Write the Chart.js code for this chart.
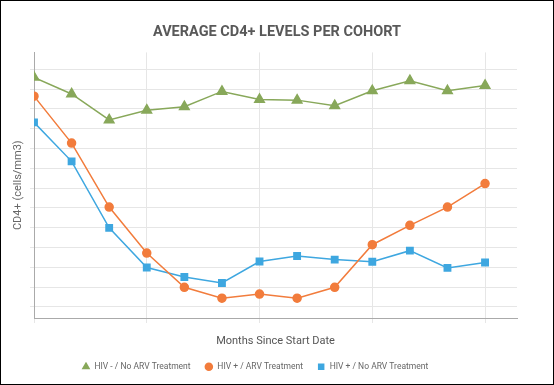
<!DOCTYPE html>
<html>
<head>
<meta charset="utf-8">
<script src="https://cdn.jsdelivr.net/npm/chart.js@4"></script>
<style>
  html, body { margin: 0; padding: 0; background: #fff; }
  #wrap { width: 554px; height: 385px; box-sizing: border-box; border: 1px solid #000; position: relative; }
  #wrap canvas { display: block; }
</style>
</head>
<body>
<div id="wrap"><canvas id="c"></canvas></div>
<script>
const months = [0, 1, 2, 3, 4, 5, 6, 7, 8, 9, 10, 11, 12];
const seriesNames = ['HIV - / No ARV Treatment', 'HIV + / ARV Treatment', 'HIV + / No ARV Treatment'];
const hivNegNoArv = [1159, 1075, 944, 993, 1011, 1088, 1047, 1044, 1016, 1091, 1142, 1091, 1118];
const hivPosArv   = [1064, 827, 504, 272, 99, 44, 65, 44, 99, 314, 412, 504, 623];
const hivPosNoArv = [932, 735, 399, 199, 151, 121, 229, 257, 239, 228, 284, 197, 224];
const yTicks = [0, 100, 200, 300, 400, 500, 600, 700, 800, 900, 1000, 1100, 1200];
const xTicks = [0, 3, 6, 9, 12];

const toPts = (vals) => vals.map((v, i) => ({ x: months[i], y: v }));

const shiftLegend = {
  id: 'shiftLegend',
  afterLayout(chart) {
    const lg = chart.legend;
    if (lg) { lg.left -= 22; lg.right -= 22; }
  }
};

new Chart(document.getElementById('c'), {
  type: 'line',
  data: {
    datasets: [
      { label: seriesNames[0], data: toPts(hivNegNoArv), borderColor: '#88a85a', backgroundColor: '#88a85a',
        pointStyle: 'triangle', pointRadius: 5.5, pointHoverRadius: 5.5, borderWidth: 1.5, tension: 0 },
      { label: seriesNames[1], data: toPts(hivPosArv), borderColor: '#f27c3c', backgroundColor: '#f27c3c',
        pointStyle: 'circle', pointRadius: 4, pointHoverRadius: 4, borderWidth: 1.5, tension: 0 },
      { label: seriesNames[2], data: toPts(hivPosNoArv), borderColor: '#3ea7e0', backgroundColor: '#3ea7e0',
        pointStyle: 'rect', pointRadius: 4.5, pointHoverRadius: 4.5, borderWidth: 1.5, tension: 0 }
    ]
  },
  plugins: [shiftLegend],
  options: {
    responsive: true,
    maintainAspectRatio: false,
    animation: false,
    layout: { padding: { left: 0, right: 0, top: 0, bottom: 3 } },
    plugins: {
      title: {
        display: true,
        text: 'AVERAGE CD4+ LEVELS PER COHORT',
        color: '#595959',
        font: { family: 'Roboto', size: 14.5, weight: 'bold' },
        padding: { top: 23, bottom: 11 }
      },
      legend: {
        position: 'bottom',
        labels: {
          usePointStyle: true,
          boxWidth: 9,
          boxHeight: 5,
          padding: 14,
          color: '#666',
          font: { family: 'Roboto', size: 8.5 }
        }
      },
      tooltip: { enabled: false }
    },
    scales: {
      x: {
        type: 'linear',
        min: 0,
        max: 12.85,
        afterBuildTicks: (s) => { s.ticks = xTicks.map(v => ({ value: v })); },
        afterFit: (s) => { s.height = 30.5; },
        grid: { color: '#e6e6e6', lineWidth: 1, tickLength: 5, drawTicks: true },
        border: { display: true, color: '#aaaaaa', width: 1 },
        ticks: { display: false },
        title: {
          display: true,
          text: 'Months Since Start Date',
          color: '#555',
          font: { family: 'Roboto', size: 11 },
          padding: { top: 0, bottom: 1 }
        }
      },
      y: {
        type: 'linear',
        min: -56,
        max: 1285,
        afterBuildTicks: (s) => { s.ticks = yTicks.map(v => ({ value: v })); },
        afterFit: (s) => { s.width = 33; },
        grid: { color: '#e6e6e6', lineWidth: 1, tickLength: 4, drawTicks: true },
        border: { display: true, color: '#aaaaaa', width: 1 },
        ticks: { display: false },
        title: {
          display: true,
          text: 'CD4+ (cells/mm3)',
          color: '#666',
          font: { family: 'Roboto', size: 11 },
          padding: { top: 11, bottom: 0 }
        }
      },
      yRight: {
        position: 'right',
        display: true,
        afterFit: (s) => { s.width = 36; },
        grid: { display: false, drawTicks: false },
        border: { display: false },
        ticks: { display: false }
      }
    }
  }
});
</script>
</body>
</html>
